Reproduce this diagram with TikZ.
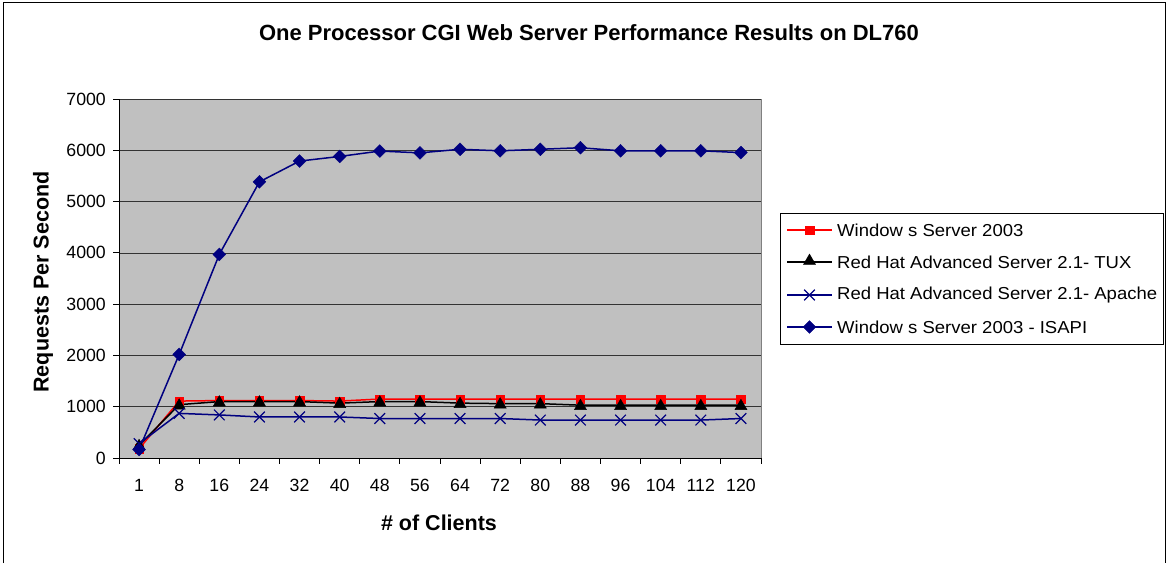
\documentclass[tikz,border=0pt]{standalone}
\usepackage{fontspec}
\setmainfont{Liberation Sans}
\newfontfamily\legfont[FakeStretch=1.07]{Liberation Sans}
\usetikzlibrary{shapes.geometric,shapes.misc}
\definecolor{navyc}{RGB}{0,0,128}
\definecolor{plotgray}{RGB}{192,192,192}
\definecolor{framegray}{RGB}{128,128,128}
\tikzset{
  sqmark/.style={rectangle,fill=red,draw=red,minimum size=8.5pt,inner sep=0pt},
  trimark/.style={regular polygon,regular polygon sides=3,fill=black,draw=black,minimum size=14pt,inner sep=0pt},
  diamark/.style={diamond,fill=navyc,draw=navyc,minimum size=13pt,inner sep=0pt},
  xmark/.style={cross out,draw=navyc,line width=1.2pt,minimum size=9.5pt,inner sep=0pt},
  ticklab/.style={font=\fontsize{17.7}{18}\selectfont,inner sep=0pt},
  leglab/.style={font=\legfont\fontsize{17.3}{18}\selectfont,anchor=west,inner sep=0pt},
  axlab/.style={font=\bfseries\fontsize{21.5}{22}\selectfont,inner sep=0pt},
}
\begin{document}
\begin{tikzpicture}[x=1pt,y=-1pt]
\useasboundingbox (0,0) rectangle (1168,563);
% outer frame
\draw[black,line width=1pt] (3,563) -- (3,2) -- (1165,2) -- (1165,563);
% title
\node[axlab,font=\bfseries\fontsize{22}{22}\selectfont] (title) at (589,33) {One Processor CGI Web Server Performance Results on DL760};
% plot area
\fill[plotgray] (119,99) rectangle (761,458);
\draw[framegray,line width=1pt] (119,99) -- (761,99) -- (761,458);
% gridlines and y ticks
\foreach \k in {1,...,7} {
  \draw[black!80,line width=0.7pt] (119,{458-\k*359/7}) -- (761,{458-\k*359/7});
}
\foreach \k in {0,...,7} {
  \draw[black,line width=0.8pt] (113,{458-\k*359/7}) -- (119,{458-\k*359/7});
  \pgfmathtruncatemacro{\lab}{\k*1000}
  \node[ticklab,anchor=east] (yl\k) at (106,{458-\k*359/7}) {\lab};
}
% axes
\draw[black,line width=1pt] (119,99) -- (119,458) -- (761,458);
% x ticks and labels
\foreach \k in {0,...,16} {
  \draw[black,line width=0.8pt] ({119+\k*40.125},458) -- ({119+\k*40.125},464);
}
\foreach \lab [count=\i] in {1,8,16,24,32,40,48,56,64,72,80,88,96,104,112,120} {
  \node[ticklab] (xl\i) at ({119+(\i-0.5)*40.125},485) {\lab};
}
% axis titles
\node[axlab] (xtitle) at (439,523) {\# of Clients};
\node[axlab,rotate=90] (ytitle) at (43,282) {Requests Per Second};
% data coordinates
\foreach \v [count=\i] in {180,1110,1120,1120,1120,1110,1150,1150,1150,1150,1150,1150,1150,1150,1150,1150}
  \coordinate (w\i) at ({119+(\i-0.5)*40.125},{458-\v*0.0512857});
\foreach \v [count=\i] in {250,1040,1100,1100,1100,1070,1100,1100,1070,1060,1060,1030,1030,1030,1030,1030}
  \coordinate (t\i) at ({119+(\i-0.5)*40.125},{458-\v*0.0512857});
\foreach \v [count=\i] in {280,870,840,800,800,800,770,770,770,770,740,740,740,740,740,770}
  \coordinate (a\i) at ({119+(\i-0.5)*40.125},{458-\v*0.0512857});
\foreach \v [count=\i] in {165,2020,3970,5385,5790,5880,5985,5950,6020,5990,6020,6050,5990,5990,5990,5955}
  \coordinate (s\i) at ({119+(\i-0.5)*40.125},{458-\v*0.0512857});
% lines
\draw[red,line width=1.5pt] (w1) \foreach \i in {2,...,16}{ -- (w\i)};
\draw[black,line width=1.5pt] (t1) \foreach \i in {2,...,16}{ -- (t\i)};
\draw[navyc,line width=1.5pt] (a1) \foreach \i in {2,...,16}{ -- (a\i)};
\draw[navyc,line width=1.5pt] (s1) \foreach \i in {2,...,16}{ -- (s\i)};
% markers
\foreach \i in {1,...,16} \node[sqmark] (mw\i) at (w\i) {};
\foreach \i in {1,...,16} \node[trimark] (mt\i) at ([yshift=-1pt]t\i) {};
\foreach \i in {1,...,16} \node[xmark] (ma\i) at (a\i) {};
\foreach \i in {1,...,16} \node[diamark] (ms\i) at (s\i) {};
% legend
\draw[black,line width=0.8pt] (780,213) rectangle (1163,344);
\coordinate (l1a) at (787,230); \coordinate (l1b) at (832,230);
\coordinate (l2a) at (787,262); \coordinate (l2b) at (832,262);
\coordinate (l3a) at (787,295); \coordinate (l3b) at (832,295);
\coordinate (l4a) at (787,327); \coordinate (l4b) at (832,327);
\draw[red,line width=1.3pt] (l1a) -- (l1b);
\draw[black,line width=1.3pt] (l2a) -- (l2b);
\draw[navyc,line width=1.3pt] (l3a) -- (l3b);
\draw[navyc,line width=1.3pt] (l4a) -- (l4b);
\node[sqmark] (lm1) at (809.5,230) {};
\node[trimark] (lm2) at (809.5,261) {};
\node[xmark] (lm3) at (809.5,295) {};
\node[diamark] (lm4) at (809.5,327) {};
\node[leglab] (lt1) at (837,230) {Window s Server 2003};
\node[leglab] (lt2) at (837,262) {Red Hat Advanced Server 2.1- TUX};
\node[leglab] (lt3) at (837,295) {Red Hat Advanced Server 2.1- Apache};
\node[leglab] (lt4) at (837,327) {Window s Server 2003 - ISAPI};
\end{tikzpicture}
\end{document}
